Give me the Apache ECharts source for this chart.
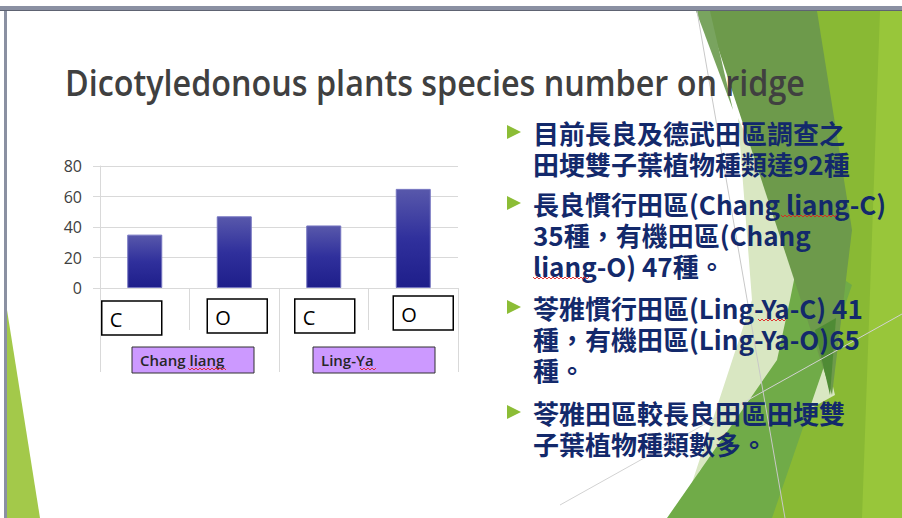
<!DOCTYPE html>
<html><head><meta charset="utf-8">
<script src="https://cdn.jsdelivr.net/npm/echarts@6/dist/echarts.min.js"></script>
<style>html,body{margin:0;padding:0;background:#fff}#c{width:902px;height:518px}</style>
</head><body><div id="c"></div>
<script>
// ---- data ----
const categories = ['C', 'O', 'C', 'O'];
const groups = ['Chang liang', 'Ling-Ya'];
const values = [35, 47, 41, 65];
const yTicks = [0, 20, 40, 60, 80];
const titleText = 'Dicotyledonous plants species number on ridge';
const bulletParas = [
  ['目前長良及德武田區調查之', '田埂雙子葉植物種類達92種'],
  ['長良慣行田區(Chang liang-C)', '35種，有機田區(Chang', 'liang-O) 47種。'],
  ['苓雅慣行田區(Ling-Ya-C) 41', '種，有機田區(Ling-Ya-O)65', '種。'],
  ['苓雅田區較長良田區田埂雙', '子葉植物種類數多。']
];

const chart = echarts.init(document.getElementById('c'), null, {renderer: 'svg'});
const grey = '#d9d9d9';
const option = {
  animation: false,
  backgroundColor: '#ffffff',
  grid: {left: 100, right: 444, top: 166, bottom: 230},
  xAxis: [
    {type: 'category', data: categories, position: 'bottom',
     axisLine: {show: true, lineStyle: {color: grey}},
     axisTick: {show: true, length: 42, interval: 0, lineStyle: {color: grey}},
     axisLabel: {show: false}, splitLine: {show: false}},
    {type: 'category', data: groups, position: 'bottom',
     axisLine: {show: false},
     axisTick: {show: true, length: 84, interval: 0, lineStyle: {color: grey}},
     axisLabel: {show: false}, splitLine: {show: false}}
  ],
  yAxis: {type: 'value', min: yTicks[0], max: yTicks[yTicks.length - 1], interval: yTicks[1] - yTicks[0],
    axisLine: {show: true, lineStyle: {color: grey}},
    axisTick: {show: true, length: 7, lineStyle: {color: grey}},
    axisLabel: {margin: 18, color: '#404040', fontSize: 16, fontFamily: '"Open Sans", sans-serif'},
    splitLine: {show: true, lineStyle: {color: grey}}},
  series: [{
    type: 'bar', xAxisIndex: 0, yAxisIndex: 0, data: values, barWidth: 35, z: 5,
    itemStyle: {
      color: new echarts.graphic.LinearGradient(0, 0, 0, 1, [
        {offset: 0, color: '#5858ab'}, {offset: 0.5, color: '#30309c'}, {offset: 1, color: '#1e1e8a'}]),
      borderColor: '#7474c0', borderWidth: 1
    }
  }]
};
chart.setOption(option);

// ---- decorations / annotations ----
const g = [];
function poly(points, fill, z) { g.push({type: 'polygon', z: z || -20, silent: true, shape: {points}, style: {fill}}); }
function line(x1, y1, x2, y2, stroke, z) { g.push({type: 'line', z: z || -15, silent: true, shape: {x1, y1, x2, y2}, style: {stroke, lineWidth: 1}}); }
function squiggle(x1, x2, y) {
  const pts = []; let up = true;
  for (let x = x1; x <= x2; x += 2) { pts.push([x, up ? y - 1 : y + 1]); up = !up; }
  g.push({type: 'polyline', z: 60, silent: true, shape: {points: pts}, style: {stroke: '#e02020', lineWidth: 0.9, fill: null}});
}

// background facets
poly([[790, 11], [902, 11], [902, 518], [760, 518]], '#89b934');
poly([[880, 11], [902, 11], [902, 518], [862, 518]], '#98c63a');
poly([[738, 118], [800, 250], [835, 395], [700, 470], [688, 495], [752, 300]], '#d9e7c2');
poly([[667, 518], [772, 518], [852, 285], [800, 250], [790, 300], [777, 360]], '#70ab48');
poly([[706, 11], [817, 11], [852, 230], [832, 395]], '#6d9a4b');
poly([[696, 11], [710, 11], [733, 110]], '#79a45f');
poly([[815, 330], [836, 318], [830, 395]], '#4f8b35');
poly([[7, 310], [7, 518], [40, 518]], '#a3c94a');
line(697, 11, 785, 518, '#c8c8c8');
line(560, 505, 902, 314, '#d2d2d2');

// slide frame
g.push({type: 'rect', z: 80, silent: true, shape: {x: 0, y: 6, width: 902, height: 5}, style: {fill: '#8a90a2'}});
g.push({type: 'rect', z: 81, silent: true, shape: {x: 0, y: 10, width: 902, height: 1}, style: {fill: '#5e6372'}});
g.push({type: 'rect', z: 80, silent: true, shape: {x: 4, y: 6, width: 3, height: 512}, style: {fill: '#8a90a2'}});

// title, scaled to the slide's width
const tfont = '600 37px "Open Sans"';
const cv = document.createElement('canvas').getContext('2d');
cv.font = tfont;
const tw = cv.measureText(titleText).width;
g.push({type: 'text', z: 50, x: 65, y: 82, scaleX: 740 / tw,
  style: {text: titleText, font: tfont, fill: '#404040', textVerticalAlign: 'middle'}});

// bullets
const firstLineY = [132, 203, 307, 412];
const lh = 31;
bulletParas.forEach((para, pi) => {
  const y0 = firstLineY[pi];
  poly([[507, y0 - 7], [507, y0 + 7], [521, y0]], '#8cbd36', 40);
  para.forEach((t, li) => {
    g.push({type: 'text', z: 50, x: 533, y: y0 + li * lh,
      style: {text: t, font: 'bold 26px "Noto Sans CJK TC", "Noto Sans", sans-serif',
        fill: '#13296b', lineHeight: 26, textVerticalAlign: 'middle'}});
  });
});

// C / O label boxes under the bars
const zeroY = chart.convertToPixel({yAxisIndex: 0}, 0);
const boxDx = [-13, 3, 1, 10], boxDy = [13, 11, 11, 8];
categories.forEach((c, i) => {
  const cx = chart.convertToPixel({xAxisIndex: 0}, i) + boxDx[i];
  const top = zeroY + boxDy[i];
  g.push({type: 'rect', z: 30, shape: {x: cx - 30, y: top, width: 60, height: 34},
    style: {fill: '#ffffff', stroke: '#000000', lineWidth: 1.5}});
  g.push({type: 'text', z: 31, x: cx - 22, y: top + 18,
    style: {text: c, font: '20px "Open Sans", sans-serif', fill: '#000000', textVerticalAlign: 'middle'}});
});
// group boxes
const grpDx = [3.5, 5.5];
groups.forEach((name, i) => {
  const cx = chart.convertToPixel({xAxisIndex: 1}, i) + grpDx[i];
  g.push({type: 'rect', z: 30, shape: {x: cx - 61, y: 347, width: 122, height: 26},
    style: {fill: '#cc99ff', stroke: '#303030', lineWidth: 1}});
  g.push({type: 'text', z: 31, x: cx - 53, y: 360,
    style: {text: name, font: '600 15px "Open Sans", sans-serif', fill: '#262626', textVerticalAlign: 'middle'}});
});
squiggle(188, 226, 369);
squiggle(360, 376, 369);
squiggle(781, 838, 216);
squiggle(533, 590, 278);
squiggle(758, 786, 320);

chart.setOption({graphic: {elements: g}});
</script></body></html>
